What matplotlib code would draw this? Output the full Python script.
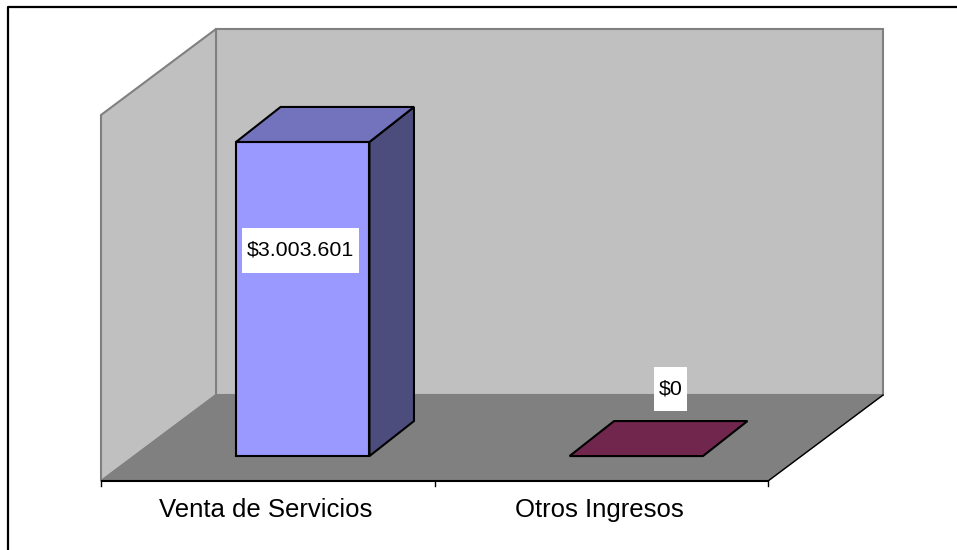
import matplotlib
matplotlib.use("Agg")
import matplotlib.pyplot as plt
from matplotlib.patches import Polygon, Rectangle

categories = ["Venta de Servicios", "Otros Ingresos"]
values = [3003601, 0]
value_labels = ["$3.003.601", "$0"]
front_colors = ["#9999ff", "#993366"]
top_colors = ["#7373bd", "#70264d"]
side_colors = ["#4d4d7d", "#4d1a33"]

y_max = 3500000
W, H = 957, 550

plt.rcParams['font.family'] = ['Liberation Sans', 'DejaVu Sans']

fig = plt.figure(figsize=(W / 100, H / 100), dpi=100, facecolor="white")

# outer frame, only top and left are in the picture
fig.add_artist(plt.Line2D([8 / W, 8 / W, 1], [0, 1 - 6.5 / H, 1 - 6.5 / H], color="black",
                          linewidth=1.6, transform=fig.transFigure))

# axes sit on the front plane of the 3d box
ax = fig.add_axes([101 / W, 1 - 481 / H, 667 / W, 366 / H])
ax.set_xlim(0, 2)
ax.set_ylim(0, y_max)
ax.axis("off")

# data units per pixel
ux = 2 / 667
uy = y_max / 366

# oblique offset of the full depth, in data units
dx = 115 * ux
dy = 86 * uy


def pt(x, y, d=0.0):
    return (x + dx * d, y + dy * d)


def face(points, color, edge, lw):
    ax.add_patch(Polygon(points, closed=True, facecolor=color, edgecolor=edge,
                         linewidth=lw, clip_on=False, joinstyle="miter"))


wall_edge = "#808080"
# back wall, side wall, floor
face([pt(0, 0, 1), pt(2, 0, 1), pt(2, y_max, 1), pt(0, y_max, 1)], "#c0c0c0", wall_edge, 1.5)
face([pt(0, 0), pt(0, 0, 1), pt(0, y_max, 1), pt(0, y_max)], "#c0c0c0", wall_edge, 1.5)
face([pt(0, 0), pt(2, 0), pt(2, 0, 1), pt(0, 0, 1)], "#808080", wall_edge, 1)

# front edge of the floor and ticks
ax.plot([0, 2], [0, 0], color="black", lw=1.5, clip_on=False, solid_capstyle="butt")
ax.plot([2, 2 + dx], [0, dy], color="black", lw=1, clip_on=False)
for i in range(3):
    ax.plot([i, i], [0, -5 * uy], color="black", lw=1, clip_on=False)

half_w = 0.2
d0 = 0.29
# bars are a little shallower in x than the floor ratio
bar_dx = 44.5 * ux
bar_dy = 35 * uy
for i, v in enumerate(values):
    x0, x1 = i + 0.505 - half_w, i + 0.505 + half_w
    fx0, fy0 = pt(x0, 0, d0)
    fx1, fy1 = pt(x1, v, d0)
    if v > 0:
        face([(fx1, fy0), (fx1 + bar_dx, fy0 + bar_dy), (fx1 + bar_dx, fy1 + bar_dy), (fx1, fy1)],
             side_colors[i], "black", 1.5)
        face([(fx0, fy0), (fx1, fy0), (fx1, fy1), (fx0, fy1)], front_colors[i], "black", 1.5)
    face([(fx0, fy1), (fx1, fy1), (fx1 + bar_dx, fy1 + bar_dy), (fx0 + bar_dx, fy1 + bar_dy)],
         top_colors[i], "black", 1.5)

    ax.text(i + 0.493, -29 * uy, categories[i], ha="center", va="center",
            fontsize=18.5, color="black", clip_on=False)


def value_label(x, y, s, box_w, box_h):
    # white box is wider in height than the text, so it is drawn on its own
    ax.add_patch(Rectangle((x - box_w / 2 * ux, y - box_h / 2 * uy), box_w * ux, box_h * uy,
                           facecolor="white", edgecolor="none", clip_on=False, zorder=4))
    ax.text(x, y, s, ha="center", va="center", fontsize=15.4, color="black", zorder=5)


value_label(0.597, 231 * uy, value_labels[0], 117, 45)
value_label(1.707, 92 * uy, value_labels[1], 33, 44)

fig.savefig("out.png", dpi=100)
